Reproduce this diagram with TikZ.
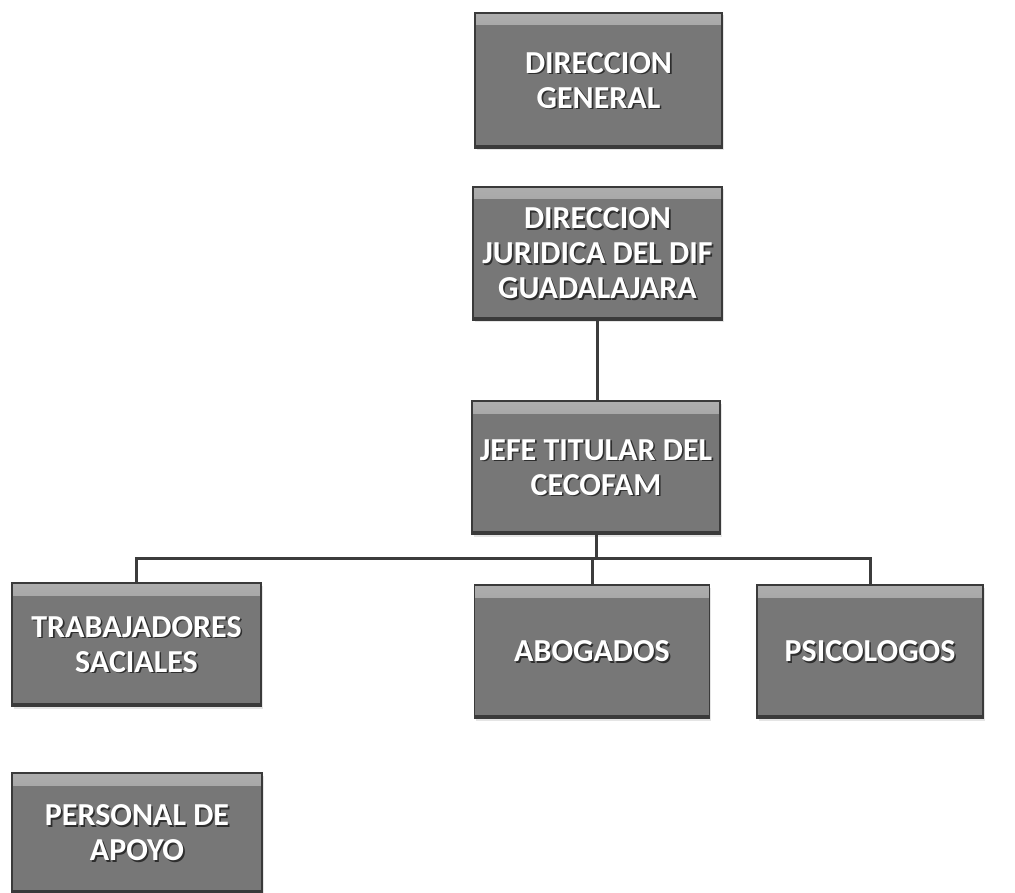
\documentclass[tikz,border=0pt]{standalone}
\usepackage{fontspec}
\setmainfont{Carlito}
\usetikzlibrary{calc,shadows}
\definecolor{boxgray}{HTML}{777777}
\definecolor{boxedge}{HTML}{3A3A3A}
\definecolor{linegray}{HTML}{3C3C3C}
\definecolor{txtshadow}{HTML}{2E2E2E}
\tikzset{
  orgbox/.style={draw=boxedge, line width=1.4pt, fill=boxgray,
    drop shadow={opacity=0.2, shadow xshift=1.5pt, shadow yshift=-2.5pt},
    path picture={
      \fill[top color=white!40!boxgray, bottom color=boxgray]
        (path picture bounding box.north west) rectangle
        ($(path picture bounding box.north east)+(0,12)$);
      \fill[boxedge] (path picture bounding box.south west) rectangle
        ($(path picture bounding box.south east)+(0,-3)$);
    }},
  boxtxt/.style={text=white, font=\bfseries\fontsize{32}{35}\selectfont, align=center},
  boxshd/.style={text=txtshadow, font=\bfseries\fontsize{32}{35}\selectfont, align=center},
  conn/.style={draw=linegray, line width=3pt}
}
\newcommand\orgbox[5]{%
  \node[orgbox, minimum width=#3pt, minimum height=#4pt, inner sep=0pt] (#1) at #2 {};
  \node[boxshd] (#1S) at ($(#1.center)+(1.6,1.6)$) {#5};
  \node[boxtxt] (#1T) at (#1.center) {#5};
}
\begin{document}
\begin{tikzpicture}[x=1pt,y=-1pt]
\useasboundingbox[fill=white] (0,0) rectangle (1015,893);
\orgbox{gen}{(598.5,80.5)}{247}{135}{DIRECCION\\GENERAL}
\orgbox{jur}{(597.5,253.5)}{249}{133}{DIRECCION\\JURIDICA DEL DIF\\GUADALAJARA}
\orgbox{jefe}{(596,467.5)}{248}{133}{JEFE TITULAR DEL\\CECOFAM}
\orgbox{trab}{(136.5,644.5)}{249}{123}{TRABAJADORES\\SACIALES}
\orgbox{abog}{(592,651.5)}{235}{133}{ABOGADOS}
\orgbox{psic}{(870,651.5)}{226}{133}{PSICOLOGOS}
\orgbox{pers}{(137,833)}{250}{120}{PERSONAL DE\\APOYO}
\coordinate (bus) at (597,558);
\draw[conn] (jur.south) -- (jur.south |- jefe.north);
\draw[conn] (jefe.south) -- (jefe.south |- bus);
\draw[conn] (trab.north) |- (bus) -| (psic.north);
\draw[conn] (abog.north) -- (abog.north |- bus);
\end{tikzpicture}
\end{document}
